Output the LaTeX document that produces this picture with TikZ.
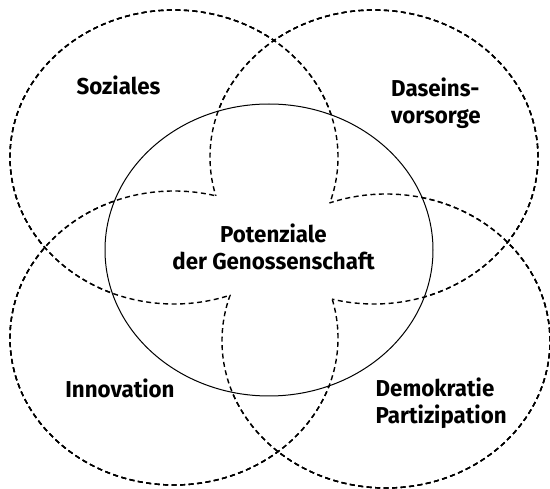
\documentclass[tikz,border=0pt]{standalone}
\usepackage{fontspec}
\setmainfont{Fira Sans}[FakeStretch=0.97]
\begin{document}
\def\eTL{(174,157) ellipse [x radius=164pt, y radius=147pt]}
\def\eTR{(374,157) ellipse [x radius=164pt, y radius=147pt]}
\def\eBL{(174,338) ellipse [x radius=164pt, y radius=147pt]}
\def\eBR{(386,341) ellipse [x radius=164pt, y radius=147pt]}
\def\eC{(269,250) ellipse [x radius=164pt, y radius=146pt]}
\def\eOut{(-20,-20) rectangle (570,510)}
\begin{tikzpicture}[x=1pt,y=-1pt,
  dl/.style={line width=1.4pt, dash pattern=on 5pt off 3.5pt},
  lbl/.style={font=\fontsize{23}{26.5}\selectfont\bfseries, inner sep=0pt},
  eo/.style={even odd rule}]
\useasboundingbox[fill=white] (0,0) rectangle (550,489);
% outside the central ellipse: all four ellipses
\begin{scope}[eo]
  \clip \eOut \eC;
  \draw[dl] \eTL; \draw[dl] \eTR; \draw[dl] \eBL; \draw[dl] \eBR;
\end{scope}
% Soziales ellipse
\begin{scope}[eo]\clip \eOut \eBR; \draw[dl] \eTL;\end{scope}
\begin{scope}[eo]\clip \eOut \eTR; \clip \eOut \eBL; \draw[dl] \eTL;\end{scope}
% Daseinsvorsorge ellipse
\begin{scope}[eo]\clip \eOut \eBL; \draw[dl] \eTR;\end{scope}
\begin{scope}[eo]\clip \eOut \eTL; \clip \eOut \eBR; \draw[dl] \eTR;\end{scope}
% Innovation ellipse
\begin{scope}[eo]\clip \eOut \eTR; \draw[dl] \eBL;\end{scope}
\begin{scope}[eo]\clip \eOut \eTL; \clip \eOut \eBR; \draw[dl] \eBL;\end{scope}
% Demokratie ellipse
\begin{scope}[eo]\clip \eOut \eTL; \draw[dl] \eBR;\end{scope}
\begin{scope}[eo]\clip \eOut \eTR; \clip \eOut \eBL; \draw[dl] \eBR;\end{scope}
% central ellipse
\draw[line width=1pt] \eC;
% labels (multi-line nodes: base = baseline of last line)
\node[lbl, anchor=base] (soz) at (118.5,95) {Soziales};
\node[lbl, align=left, anchor=base west] (das) at (391,123.5) {Daseins-\\vorsorge};
\node[lbl, align=center, anchor=base] (pot) at (273.5,269.3) {Potenziale\\der Genossenschaft};
\node[lbl, anchor=base] (inn) at (120,398) {Innovation};
\node[lbl, align=left, anchor=base west] (dem) at (375.5,423.3) {Demokratie\\Partizipation};
\end{tikzpicture}
\end{document}
